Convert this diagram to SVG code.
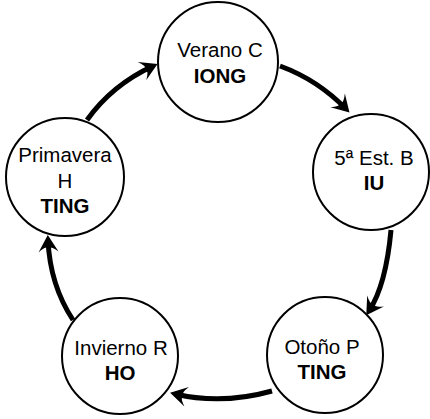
<svg xmlns="http://www.w3.org/2000/svg" width="430" height="419" viewBox="0 0 430 419">
  <style>
    .node circle { fill: #ffffff; stroke: #000000; stroke-width: 2; }
    .node text { font-family: "Liberation Sans", Arial, sans-serif; font-size: 20.5px; fill: #000000; text-anchor: middle; }
    .node text.b { font-weight: bold; }
    .edge { fill: none; stroke: #000000; stroke-width: 5; marker-end: url(#head); }
  </style>
  <defs>
    <!-- barbed arrowhead; tip sits 5px beyond the path end -->
    <marker id="head" markerUnits="userSpaceOnUse" orient="auto" markerWidth="40" markerHeight="40" refX="0" refY="0" viewBox="-20 -20 40 40" overflow="visible">
      <path d="M5,0 L-12,-10 Q-6,-3 -8,0 Q-6,3 -12,10 Z" fill="#000000"/>
    </marker>
  </defs>

  <!-- cycle connectors -->
  <g id="connectors">
    <path class="edge" d="M280,66 Q318,80 346,109"/>
    <path class="edge" d="M391,230 Q386,285 369,311"/>
    <path class="edge" d="M272,391 Q222,405 175,394"/>
    <path class="edge" d="M73,320 Q50,285 48,240"/>
    <path class="edge" d="M87,120 Q112,85 153,66"/>
  </g>

  <g id="verano" class="node">
    <circle cx="218" cy="62" r="60"/>
    <text x="220" y="57">Verano C</text>
    <text class="b" x="220" y="83">IONG</text>
  </g>

  <g id="quinta" class="node">
    <circle cx="371" cy="172" r="58"/>
    <text x="374" y="165">5ª Est. B</text>
    <text class="b" x="374" y="190">IU</text>
  </g>

  <g id="otono" class="node">
    <circle cx="325" cy="355" r="58"/>
    <text x="322" y="354">Otoño P</text>
    <text class="b" x="322" y="379">TING</text>
  </g>

  <g id="invierno" class="node">
    <circle cx="120" cy="356" r="58"/>
    <text x="121" y="355">Invierno R</text>
    <text class="b" x="120" y="380">HO</text>
  </g>

  <g id="primavera" class="node">
    <circle cx="65" cy="177" r="59"/>
    <text x="65" y="162">Primavera</text>
    <text x="65" y="188">H</text>
    <text class="b" x="65" y="213">TING</text>
  </g>
</svg>
